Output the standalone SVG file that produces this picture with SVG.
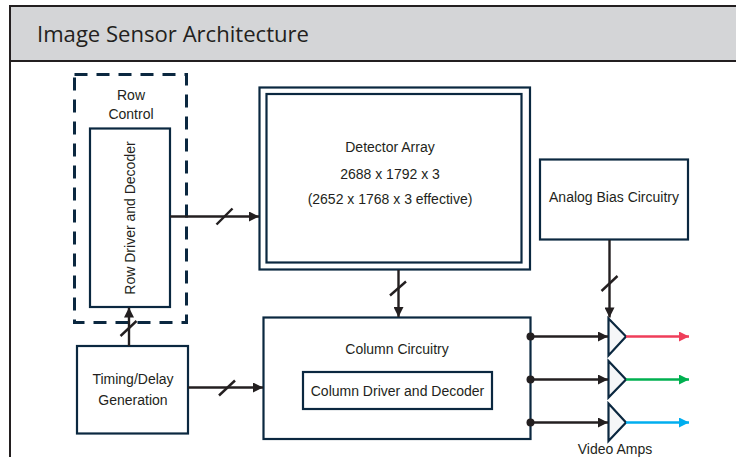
<svg xmlns="http://www.w3.org/2000/svg" width="736" height="457" viewBox="0 0 736 457">
  <defs>
    <marker id="arrow" viewBox="0 0 10 10" refX="10" refY="5" markerWidth="11" markerHeight="10" markerUnits="userSpaceOnUse" orient="auto">
      <path d="M0,0 L10,5 L0,10 Z" fill="#231f20"/>
    </marker>
    <marker id="arrow-red" viewBox="0 0 10 10" refX="10" refY="5" markerWidth="12" markerHeight="10" markerUnits="userSpaceOnUse" orient="auto">
      <path d="M0,0 L10,5 L0,10 Z" fill="#ef3e5a"/>
    </marker>
    <marker id="arrow-green" viewBox="0 0 10 10" refX="10" refY="5" markerWidth="12" markerHeight="10" markerUnits="userSpaceOnUse" orient="auto">
      <path d="M0,0 L10,5 L0,10 Z" fill="#00b050"/>
    </marker>
    <marker id="arrow-blue" viewBox="0 0 10 10" refX="10" refY="5" markerWidth="12" markerHeight="10" markerUnits="userSpaceOnUse" orient="auto">
      <path d="M0,0 L10,5 L0,10 Z" fill="#00aeef"/>
    </marker>
  </defs>
  <style>
    .box { fill: #ffffff; stroke: #0b2840; stroke-width: 2.2; }
    .dash { fill: none; stroke: #0b2840; stroke-width: 3; stroke-dasharray: 13 9; }
    .amp { fill: #f5f6f8; stroke: #0b2840; stroke-width: 2.2; stroke-linejoin: miter; }
    .wire { fill: none; stroke: #231f20; stroke-width: 2.4; }
    .slash { stroke: #231f20; stroke-width: 2.4; }
    .dot { fill: #231f20; }
    .lbl { font-family: "Liberation Sans", Arial, sans-serif; font-size: 14px; fill: #231f20; text-anchor: middle; dominant-baseline: central; }
    .title { font-family: "Open Sans", "Noto Sans", sans-serif; font-size: 22px; fill: #231f20; }
  </style>

  <rect width="736" height="457" fill="#ffffff"/>

  <!-- page frame and title bar -->
  <g id="frame">
    <line x1="10" y1="60" x2="10" y2="457" stroke="#231f20" stroke-width="2"/>
    <rect x="10" y="6" width="730" height="55" fill="#d4d5d7" stroke="#231f20" stroke-width="2"/>
    <text class="title" x="37" y="42" textLength="272" lengthAdjust="spacingAndGlyphs">Image Sensor Architecture</text>
  </g>

  <g id="row-control">
    <rect class="dash" x="74.5" y="74.5" width="112" height="248"/>
    <text class="lbl" x="131" y="95">Row</text>
    <text class="lbl" x="131" y="114">Control</text>
  </g>

  <g id="row-driver">
    <rect class="box" x="90" y="128.5" width="80" height="178.5"/>
    <text class="lbl" transform="translate(130,218) rotate(-90)">Row Driver and Decoder</text>
  </g>

  <g id="detector-array">
    <rect class="box" x="259.5" y="87.5" width="270.5" height="182" stroke-width="2.6"/>
    <rect class="box" x="266.5" y="94" width="255" height="168.5" stroke-width="2.6"/>
    <text class="lbl" x="390" y="146.5">Detector Array</text>
    <text class="lbl" x="390" y="173.5">2688 x 1792 x 3</text>
    <text class="lbl" x="390" y="199">(2652 x 1768 x 3 effective)</text>
  </g>

  <g id="analog-bias">
    <rect class="box" x="540" y="159.5" width="148" height="80"/>
    <text class="lbl" x="614" y="196.5">Analog Bias Circuitry</text>
  </g>

  <g id="timing-delay">
    <rect class="box" x="77" y="346" width="111" height="87.5"/>
    <text class="lbl" x="133" y="379">Timing/Delay</text>
    <text class="lbl" x="133" y="399.5">Generation</text>
  </g>

  <g id="column-circuitry">
    <rect class="box" x="263.5" y="317.5" width="267" height="121.5"/>
    <text class="lbl" x="397" y="349">Column Circuitry</text>
    <rect class="box" x="303" y="372" width="189" height="37"/>
    <text class="lbl" x="397.5" y="390.5" font-size="14.8">Column Driver and Decoder</text>
  </g>

  <g id="video-amps">
    <path class="amp" d="M608.5,318.5 L626,336.5 L608.5,355.5 Z"/>
    <path class="amp" d="M608.5,361 L626,379.5 L608.5,397.5 Z"/>
    <path class="amp" d="M608.5,403.5 L626,422.5 L608.5,441 Z"/>
    <text class="lbl" x="615" y="448.5">Video Amps</text>
  </g>

  <g id="connectors">
    <!-- row driver to detector array -->
    <line class="wire" x1="170" y1="216.5" x2="259" y2="216.5" marker-end="url(#arrow)"/>
    <line class="slash" x1="216.5" y1="224.5" x2="232.5" y2="208.5"/>
    <!-- detector array to column circuitry -->
    <line class="wire" x1="398.5" y1="270" x2="398.5" y2="317" marker-end="url(#arrow)"/>
    <line class="slash" x1="390" y1="295.5" x2="406" y2="281.5"/>
    <!-- analog bias to amps -->
    <line class="wire" x1="609.5" y1="240" x2="609.5" y2="317.5" marker-end="url(#arrow)"/>
    <line class="slash" x1="601.5" y1="291" x2="617.5" y2="276"/>
    <!-- timing to row driver -->
    <line class="wire" x1="129" y1="346" x2="129" y2="307.5" marker-end="url(#arrow)"/>
    <line class="slash" x1="120.5" y1="336" x2="136.5" y2="321"/>
    <!-- timing to column circuitry -->
    <line class="wire" x1="188" y1="387.5" x2="263" y2="387.5" marker-end="url(#arrow)"/>
    <line class="slash" x1="219" y1="395.5" x2="235" y2="380.5"/>
    <!-- column outputs to amps -->
    <line class="wire" x1="530" y1="336.5" x2="608" y2="336.5" marker-end="url(#arrow)"/>
    <line class="wire" x1="530" y1="379.5" x2="608" y2="379.5" marker-end="url(#arrow)"/>
    <line class="wire" x1="530" y1="422.5" x2="608" y2="422.5" marker-end="url(#arrow)"/>
    <circle class="dot" cx="530.5" cy="336.5" r="4"/>
    <circle class="dot" cx="530.5" cy="379.5" r="4"/>
    <circle class="dot" cx="530.5" cy="422.5" r="4"/>
    <!-- amp outputs -->
    <line x1="626" y1="336.5" x2="689" y2="336.5" stroke="#ef3e5a" stroke-width="2.4" marker-end="url(#arrow-red)"/>
    <line x1="626" y1="379.5" x2="689" y2="379.5" stroke="#00b050" stroke-width="2.4" marker-end="url(#arrow-green)"/>
    <line x1="626" y1="422.5" x2="689" y2="422.5" stroke="#00aeef" stroke-width="2.4" marker-end="url(#arrow-blue)"/>
  </g>
</svg>
